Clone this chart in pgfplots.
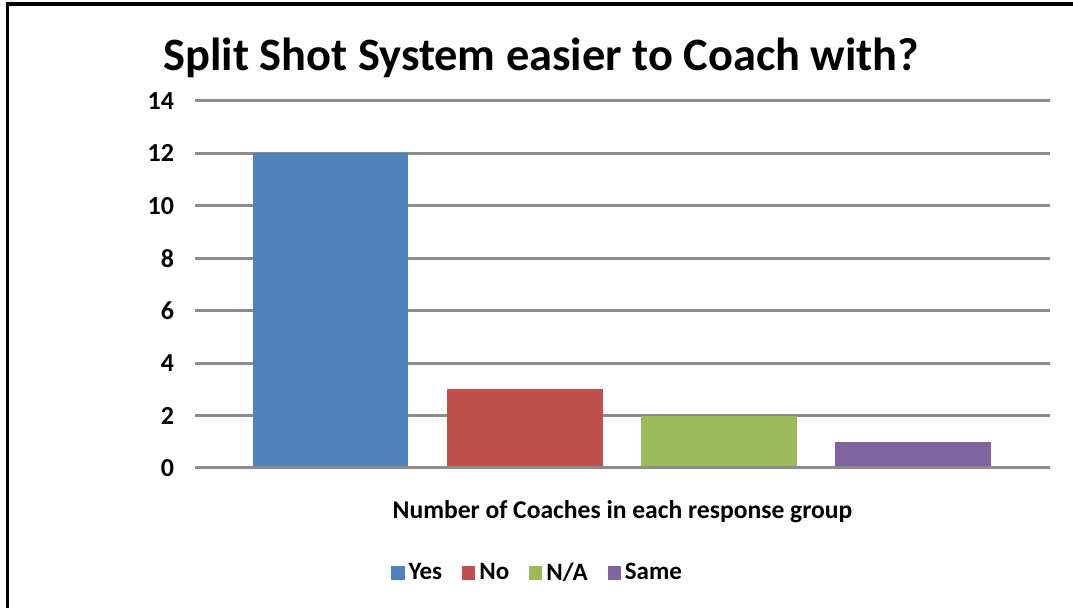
\documentclass[border=0pt]{standalone}
\usepackage{fontspec}
\setmainfont{Carlito}
\usepackage{pgfplots}
\pgfplotsset{compat=1.18}
\definecolor{cblue}{HTML}{4F81BD}
\definecolor{cred}{HTML}{C0504D}
\definecolor{cgreen}{HTML}{9BBB59}
\definecolor{cpurple}{HTML}{8064A2}
\definecolor{cgrid}{HTML}{8C8C8C}
\begin{document}
\begin{tikzpicture}
\useasboundingbox (0,0) rectangle (536.5pt,304pt);
\draw[line width=1.8pt] (3.8pt,-20pt) -- (3.8pt,302pt) -- (560pt,302pt);
\begin{axis}[
  at={(97.5pt,70pt)}, anchor=south west,
  scale only axis, width=427.5pt, height=183.5pt,
  xmin=-0.7, xmax=3.706, ymin=0, ymax=14,
  ytick={0,2,...,14}, xtick=\empty,
  axis line style={draw=none},
  ymajorgrids, grid style={cgrid, line width=1.5pt},
  major tick length=0pt,
  /pgf/number format/assume math mode=true,
  yticklabel style={font=\fontsize{13}{15}\selectfont\bfseries, xshift=-7pt},
  xlabel={Number of Coaches in each response group},
  xlabel style={at={(axis description cs:0.5,-0.12)}, anchor=center, font=\fontsize{12.8}{15}\selectfont\bfseries},
  title={Split Shot System easier to Coach with?},
  title style={at={(axis description cs:0.405,1.084)}, anchor=center, font=\fontsize{23.2}{28}\selectfont\bfseries},
  ybar, bar width=0.8, bar shift=0pt,
  legend columns=4,
  legend style={at={(axis description cs:0.402,-0.286)}, anchor=center, draw=none, fill=none,
    font=\fontsize{12.5}{15}\selectfont\bfseries, /tikz/every even column/.append style={column sep=8pt}},
  legend image code/.code={\fill[#1] (0pt,-3.3pt) rectangle (6.6pt,3.3pt);},
]
\addplot[fill=cblue, draw=none] coordinates {(0,12)};
\addplot[fill=cred, draw=none] coordinates {(1,3)};
\addplot[fill=cgreen, draw=none] coordinates {(2,2)};
\addplot[fill=cpurple, draw=none] coordinates {(3,1)};
\legend{Yes,No,N/A,Same}
\draw[cgrid, line width=1.5pt] (axis cs:-0.7,0) -- (axis cs:3.706,0);
\end{axis}
\end{tikzpicture}
\end{document}
